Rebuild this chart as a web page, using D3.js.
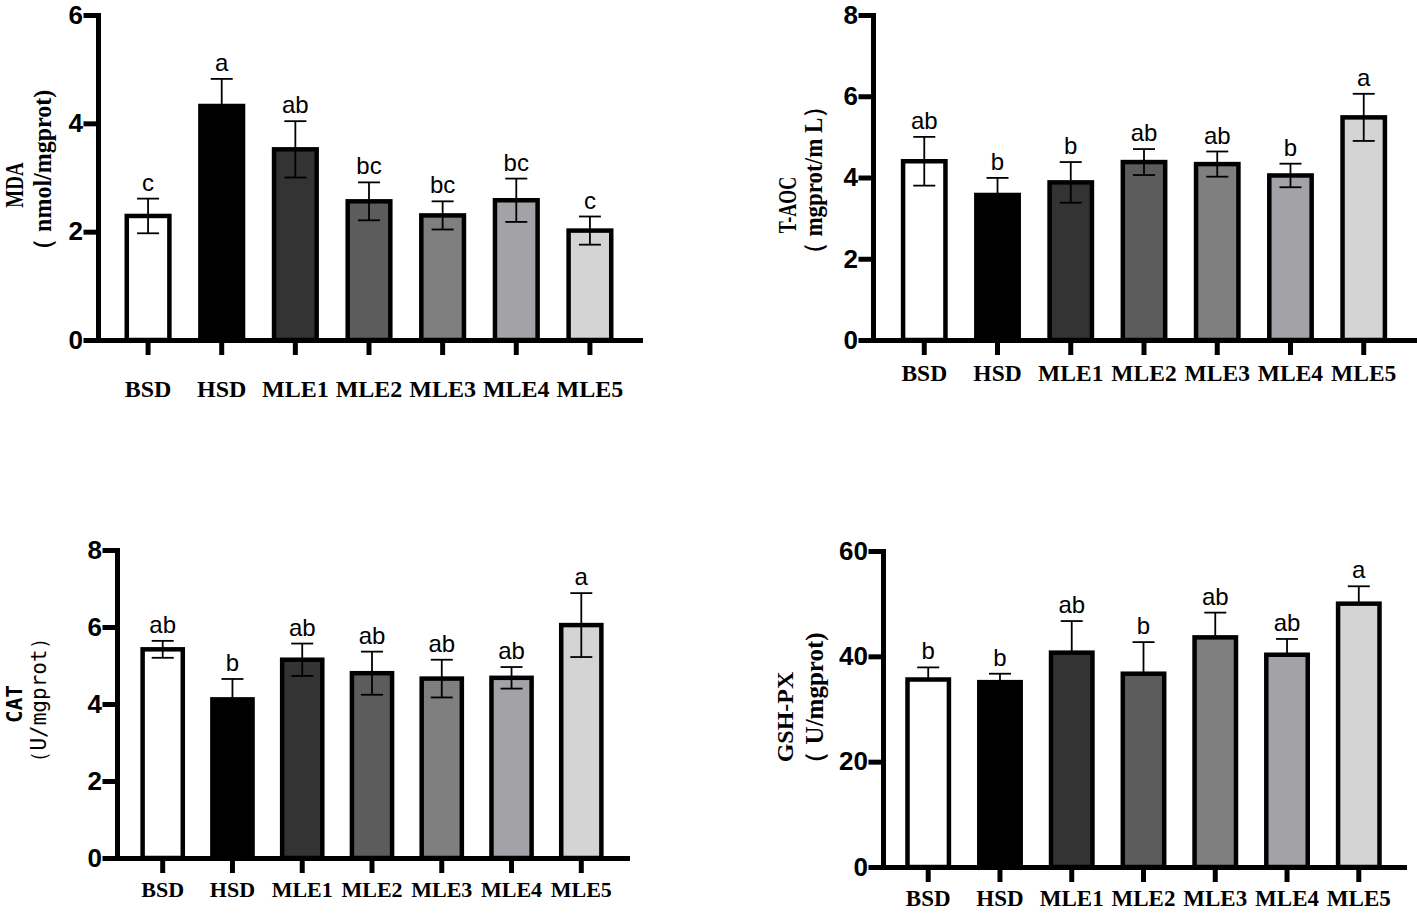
<!DOCTYPE html>
<html>
<head>
<meta charset="utf-8">
<script src="https://cdn.jsdelivr.net/npm/d3@7"></script>
<style>
  body { margin: 0; background: #fff; }
</style>
</head>
<body>
<div id="chart"></div>
<script>
// groups shared by all four panels
const groups = ["BSD", "HSD", "MLE1", "MLE2", "MLE3", "MLE4", "MLE5"];
const barFills = ["#ffffff", "#000000", "#333333", "#5c5c5c", "#7f7f7f", "#a2a2a7", "#d4d4d4"];

// MDA
const mdaMean = [2.29, 4.32, 3.52, 2.56, 2.30, 2.58, 2.02];
const mdaErr = [0.32, 0.50, 0.52, 0.35, 0.26, 0.40, 0.26];
const mdaLetters = ["c", "a", "ab", "bc", "bc", "bc", "c"];
const mdaTicks = [0, 2, 4, 6];

// T-AOC
const taocMean = [4.40, 3.57, 3.88, 4.38, 4.33, 4.05, 5.48];
const taocErr = [0.60, 0.42, 0.50, 0.32, 0.31, 0.29, 0.58];
const taocLetters = ["ab", "b", "b", "ab", "ab", "b", "a"];
const taocTicks = [0, 2, 4, 6, 8];

// CAT
const catMean = [5.42, 4.12, 5.15, 4.80, 4.66, 4.68, 6.05];
const catErr = [0.22, 0.53, 0.42, 0.56, 0.49, 0.28, 0.83];
const catLetters = ["ab", "b", "ab", "ab", "ab", "ab", "a"];
const catTicks = [0, 2, 4, 6, 8];

// GSH-PX
const gshMean = [35.6, 35.1, 40.7, 36.7, 43.6, 40.3, 50.0];
const gshErr = [2.3, 1.6, 6.0, 6.0, 4.7, 3.0, 3.3];
const gshLetters = ["b", "b", "ab", "b", "ab", "ab", "a"];
const gshTicks = [0, 20, 40, 60];

const serif = "'Liberation Serif', 'Times New Roman', serif";
const sans = "'Liberation Sans', Arial, sans-serif";
const mono = "'DejaVu Sans Mono', 'Liberation Mono', monospace";

const panels = [
    { mean: mdaMean, err: mdaErr, letters: mdaLetters, ticks: mdaTicks, upperOnly: false,
      left: 98, right: 640, top: 15, bottom: 340, padOuter: 0.36, labelY: 397, labelSize: 24,
      title: { text: "MDA", x: 23, y: 185, font: serif, weight: "bold", size: 19, stretch: 1.35 },
      unit: { text: "（ nmol/mgprot)", x: 51, y: 176, font: serif, weight: "bold", size: 24, stretch: 1.05 } },
    { mean: taocMean, err: taocErr, letters: taocLetters, ticks: taocTicks, upperOnly: false,
      left: 873, right: 1415, top: 15, bottom: 340, padOuter: 0.38, labelY: 381, labelSize: 23.5,
      title: { text: "T-AOC", x: 796, y: 205, font: serif, weight: "bold", size: 18, stretch: 1.45 },
      unit: { text: "（ mgprot/m L）", x: 822, y: 180, font: serif, weight: "bold", size: 23, stretch: 1.1 } },
    { mean: catMean, err: catErr, letters: catLetters, ticks: catTicks, upperOnly: false,
      left: 117, right: 627, top: 550, bottom: 858, padOuter: 0.335, labelY: 897, labelSize: 22,
      title: { text: "CAT", x: 22, y: 704, font: mono, weight: "bold", size: 21, stretch: 1.05 },
      unit: { text: "（U/mgprot）", x: 46, y: 700, font: mono, weight: "normal", size: 21, stretch: 1.05 } },
    { mean: gshMean, err: gshErr, letters: gshLetters, ticks: gshTicks, upperOnly: true,
      left: 883, right: 1404, top: 551, bottom: 867, padOuter: 0.31, labelY: 906, labelSize: 23,
      title: { text: "GSH-PX", x: 793, y: 717, font: serif, weight: "bold", size: 24, stretch: 1 },
      unit: { text: "（ U/mgprot)", x: 823, y: 704, font: serif, weight: "bold", size: 25, stretch: 1 } }
];

const svg = d3.select("#chart")
    .append("svg")
    .attr("width", 1417)
    .attr("height", 918)
    .style("background", "#fff");

panels.forEach(p => drawPanel(p));

function drawPanel(p) {
    const g = svg.append("g");
    const x = d3.scaleBand()
        .domain(groups)
        .range([p.left, p.right])
        .paddingInner(0.36)
        .paddingOuter(p.padOuter);
    const y = d3.scaleLinear()
        .domain([0, d3.max(p.ticks)])
        .range([p.bottom, p.top]);
    const sw = 4.5;
    const rows = groups.map((name, i) => ({
        name, mean: p.mean[i], err: p.err[i], letter: p.letters[i], fill: barFills[i]
    }));

    // bars
    g.selectAll("rect.bar")
        .data(rows)
        .join("rect")
        .attr("class", "bar")
        .attr("x", d => x(d.name) + sw / 2)
        .attr("width", x.bandwidth() - sw)
        .attr("y", d => y(d.mean))
        .attr("height", d => y(0) - y(d.mean))
        .attr("fill", d => d.fill)
        .attr("stroke", "#000")
        .attr("stroke-width", sw);

    // error bars
    const cap = 11;
    const eb = g.selectAll("g.err")
        .data(rows)
        .join("g")
        .attr("class", "err")
        .attr("transform", d => `translate(${x(d.name) + x.bandwidth() / 2},0)`)
        .attr("stroke", "#000")
        .attr("stroke-width", 1.8);
    eb.append("line")
        .attr("y1", d => p.upperOnly ? y(d.mean) : y(d.mean - d.err))
        .attr("y2", d => y(d.mean + d.err));
    eb.append("line")
        .attr("x1", -cap).attr("x2", cap)
        .attr("y1", d => y(d.mean + d.err))
        .attr("y2", d => y(d.mean + d.err));
    if (!p.upperOnly) {
        eb.append("line")
            .attr("x1", -cap).attr("x2", cap)
            .attr("y1", d => y(d.mean - d.err))
            .attr("y2", d => y(d.mean - d.err));
    }

    // significance letters
    g.selectAll("text.letter")
        .data(rows)
        .join("text")
        .attr("class", "letter")
        .attr("x", d => x(d.name) + x.bandwidth() / 2)
        .attr("y", d => y(d.mean + d.err) - 8)
        .attr("text-anchor", "middle")
        .attr("font-family", sans)
        .attr("font-size", 24)
        .text(d => d.letter);

    // y axis
    const yAxis = g.append("g")
        .attr("transform", `translate(${p.left},0)`)
        .call(d3.axisLeft(y).tickValues(p.ticks).tickFormat(d3.format("d"))
            .tickSize(12).tickSizeOuter(0).tickPadding(3));
    yAxis.selectAll("path, line")
        .attr("stroke", "#000")
        .attr("stroke-width", 5)
        .attr("stroke-linecap", "square");
    yAxis.selectAll("text")
        .attr("font-family", sans)
        .attr("font-weight", "bold")
        .attr("font-size", 26)
        .attr("fill", "#000");

    // x axis
    const xAxis = g.append("g")
        .attr("transform", `translate(0,${p.bottom})`)
        .call(d3.axisBottom(x).tickSize(15).tickSizeOuter(0));
    xAxis.selectAll("path, line")
        .attr("stroke", "#000")
        .attr("stroke-width", 5);
    xAxis.select("path.domain").attr("stroke-linecap", "square");
    xAxis.selectAll("text")
        .attr("y", p.labelY - p.bottom)
        .attr("dy", null)
        .attr("font-family", serif)
        .attr("font-weight", "bold")
        .attr("font-size", p.labelSize)
        .attr("fill", "#000");

    // axis titles, rotated; stretch widens the glyphs across the line like the source
    [p.title, p.unit].forEach(t => {
        g.append("text")
            .attr("transform", `translate(${t.x},${t.y}) rotate(-90) scale(1,${t.stretch})`)
            .attr("text-anchor", "middle")
            .attr("font-family", t.font)
            .attr("font-weight", t.weight)
            .attr("font-size", t.size)
            .attr("fill", "#000")
            .text(t.text);
    });
}
</script>
</body>
</html>
